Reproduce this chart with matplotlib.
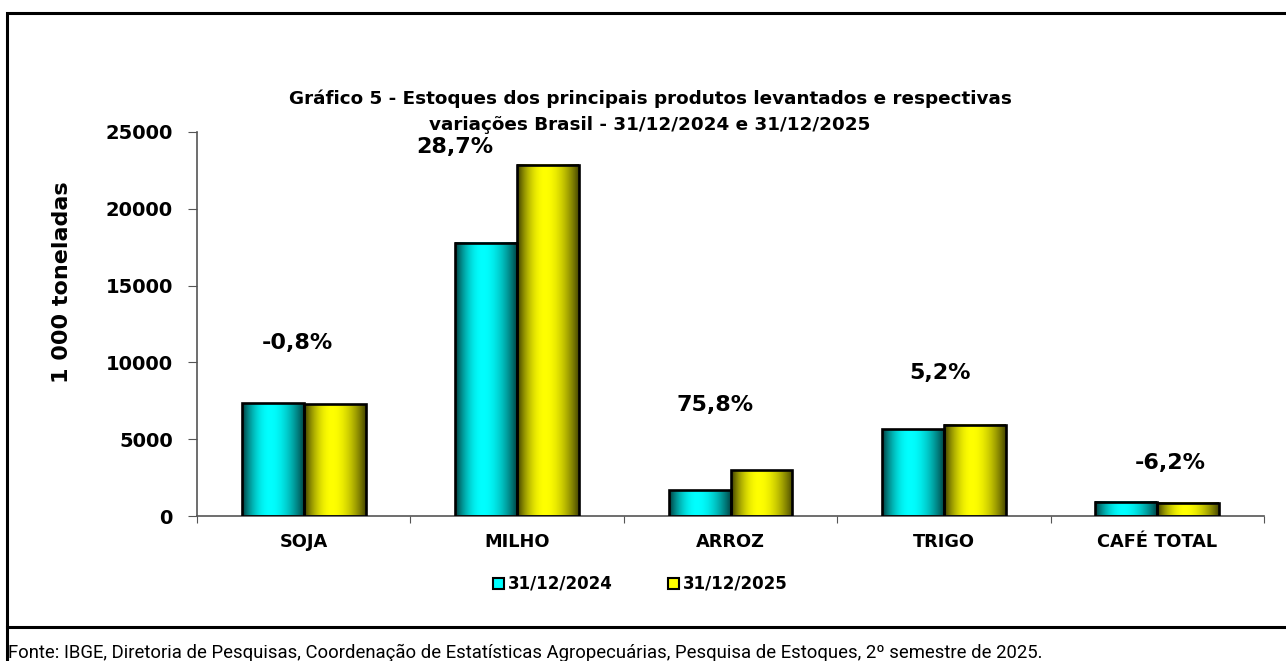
import numpy as np
import matplotlib.pyplot as plt
from matplotlib.patches import Patch, Rectangle
from matplotlib.lines import Line2D

plt.rcParams['font.family'] = ['DejaVu Sans']

# Dados (1 000 toneladas)
produtos = ["SOJA", "MILHO", "ARROZ", "TRIGO", "CAFÉ TOTAL"]
estoque_2024 = [7330, 17780, 1690, 5660, 930]
estoque_2025 = [7270, 22880, 2970, 5955, 872]
variacao = ["-0,8%", "28,7%", "75,8%", "5,2%", "-6,2%"]
series = ["31/12/2024", "31/12/2025"]

# posicao manual dos rotulos de variacao (como no Excel)
var_dx = [-0.03, -0.29, -0.07, -0.02, 0.06]
var_y = [11250, 24000, 7250, 9300, 3450]

W, H = 1286, 661
fig = plt.figure(figsize=(W / 100, H / 100), dpi=100)
ax = fig.add_axes([197 / W, 1 - 516 / H, (1264 - 197) / W, (516 - 132) / H])


def gradiente(cor):
    # sombreamento horizontal: escuro nas bordas, claro no meio
    t = np.linspace(0, 1, 64)
    b = np.where(t < 0.45, 0.2 + 0.8 * np.sin(np.pi / 2 * t / 0.45) ** 0.8,
                 0.28 + 0.72 * np.cos(np.pi / 2 * (t - 0.45) / 0.55) ** 0.9)
    rgb = np.outer(b, np.array(cor))
    return rgb[np.newaxis, :, :]


x = np.arange(len(produtos))
w = 0.29
cores = [(0, 1, 1), (1, 1, 0)]
for i, (vals, cor) in enumerate(zip([estoque_2024, estoque_2025], cores)):
    pos = x + (i - 0.5) * w
    bars = ax.bar(pos, vals, w, facecolor='none', edgecolor='black',
                  linewidth=1.9, zorder=3)
    for b in bars:
        x0 = b.get_x()
        ax.imshow(gradiente(cor), extent=[x0, x0 + w, 0, b.get_height()],
                  aspect='auto', zorder=2, interpolation='bilinear')

for i, txt in enumerate(variacao):
    ax.text(x[i] + var_dx[i], var_y[i], txt, ha='center', va='center',
            fontsize=16, fontweight='bold')

ax.set_xlim(-0.5, len(produtos) - 0.5)
ax.set_ylim(0, 25000)
ax.set_yticks(range(0, 25001, 5000))
ax.tick_params(axis='y', labelsize=14, length=6.5, pad=11, color='#555555')
for lb in ax.get_yticklabels():
    lb.set_fontweight('bold')

ax.set_xticks(np.arange(-0.5, len(produtos)), labels=[''] * (len(produtos) + 1))
ax.set_xticks(x, labels=produtos, minor=True)
ax.tick_params(axis='x', which='major', length=5, color='#555555', direction='out')
ax.tick_params(axis='x', which='minor', length=0, pad=12, labelsize=12.8)
for lb in ax.get_xticklabels(minor=True):
    lb.set_fontweight('bold')

for s in ['top', 'right']:
    ax.spines[s].set_visible(False)
for s in ['left', 'bottom']:
    ax.spines[s].set_color('#555555')
    ax.spines[s].set_linewidth(1.2)

fig.text(650 / W, 1 - 112 / H,
         "Gráfico 5 - Estoques dos principais produtos levantados e respectivas\n"
         "variações Brasil - 31/12/2024 e 31/12/2025",
         ha='center', va='center', fontsize=13.2, fontweight='bold', linespacing=1.6)
fig.text(62 / W, 1 - 282 / H, "1 000 toneladas", rotation=90, ha='center',
         va='center', fontsize=16, fontweight='bold')

handles = [Patch(facecolor=c, edgecolor='black', linewidth=1.5) for c in cores]
fig.legend(handles, series, loc='center', bbox_to_anchor=(640 / W, 1 - 584 / H),
           ncol=2, frameon=False, handlelength=0.66, handleheight=0.66,
           handletextpad=0.25, columnspacing=3.3,
           prop={'weight': 'bold', 'size': 12})

# moldura e rodape
fig.add_artist(Rectangle((7 / W, -0.05), 1.1, 1 - 13 / H + 0.05, fill=False,
                         edgecolor='black', linewidth=2.2, transform=fig.transFigure))
fig.add_artist(Line2D([7 / W, 1], [1 - 627 / H] * 2, color='black', linewidth=2.2,
                      transform=fig.transFigure))
fig.text(8 / W, 1 - 644 / H,
         "Fonte: IBGE, Diretoria de Pesquisas, Coordenação de Estatísticas Agropecuárias, "
         "Pesquisa de Estoques, 2º semestre de 2025.",
         ha='left', va='top', fontsize=13.3, family=['Roboto', 'DejaVu Sans'])

fig.savefig("out.png", dpi=100)
